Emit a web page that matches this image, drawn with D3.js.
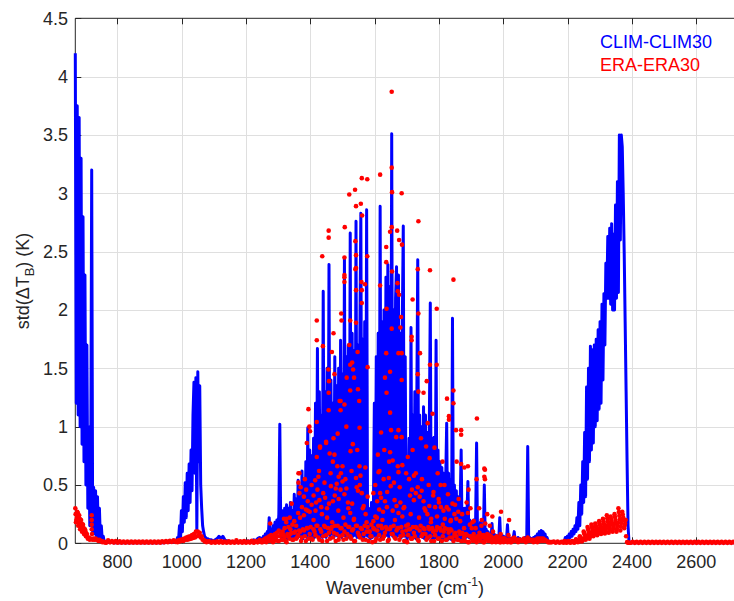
<!DOCTYPE html>
<html>
<head>
<meta charset="utf-8">
<script src="https://cdn.jsdelivr.net/npm/d3@7"></script>
<style>
  body { margin: 0; background: #fff; }
  svg { display: block; }
  text { font-family: "Liberation Sans", Arial, Helvetica, sans-serif; }
</style>
</head>
<body>
<svg id="chart" width="734" height="601"></svg>
<script>
// channel blocks: first wavenumber and spacing (cm-1) of each block
const segStart = [669, 771, 984, 1086, 1251, 2157, 2190, 2403];
const segStep  = [3, 6, 3, 6, 3, 6, 3, 6];
// ERA has two more interleaved blocks (water band floor, CO2 4.3um band)
const eraStart = segStart.concat([1272, 2227.5]);
const eraStep  = segStep.concat([6, 3]);

// CLIM-CLIM30 std(dTb), one array per block
const climLw = [4.2,1.2,3.75,1.1,3.65,1.0,3.3,0.85,2.8,0.7,2.3,0.5,1.7,0.3,1.0,0.15,0.6,3.2,0.1,0.48,
  0.08,0.45,0.06,0.4,0.05,0.3,0.03,0.15,0.02,0.06,0.01,0.02,0.005];
const climWin = [0.01,0.008,0.006,0.005,0.005,0.005,0.004,0.004,0.004,0.004,0.004,0.004,0.004,0.004,
  0.004,0.004,0.004,0.004,0.004,0.004,0.004,0.004,0.004,0.004,0.004,0.004,0.004,
  0.005,0.005,0.005,0.006,0.007,0.008,0.01,0.012,0.015];
const climO3 = [0.02,0.05,0.03,0.15,0.05,0.28,0.1,0.4,0.18,0.52,0.22,0.6,0.28,0.68,0.35,0.8,0.45,1.1,
  1.38,0.6,1.42,0.1,1.47,0.7,1.35,0.5,0.3,0.15,0.1,0.06,0.05,0.04,0.04];
const climMid = [0.03,0.03,0.02,0.03,0.04,0.06,0.04,0.06,0.03,0.02,0.02,0.015,0.015,0.01,
  0.01,0.01,0.01,0.015,0.01,0.015,0.02,0.015,0.02,0.03,0.02,0.04,0.05,0.04];
const climH2o = [
  0.03,0.06,0.02,0.08,0.04,0.1,0.05,0.22,0.06,0.12,
  0.05,0.15,0.06,0.18,0.08,0.2,0.1,0.25,1.02,0.12,
  0.04,0.28,0.03,0.3,0.05,0.33,0.04,0.3,0.06,0.35,
  0.05,0.28,0.04,0.42,0.06,0.38,0.05,0.54,0.06,0.45,
  0.05,0.62,0.04,0.55,0.06,0.7,0.05,0.99,0.07,0.8,
  0.05,0.75,0.06,0.9,0.05,1.2,0.07,1.67,0.05,1.3,
  0.06,1.1,0.05,2.16,0.07,1.3,0.05,1.5,0.08,2.39,
  0.06,1.4,0.08,1.2,0.05,1.6,0.07,1.35,0.06,1.5,
  0.07,1.74,0.05,1.45,0.08,2.44,0.06,1.6,0.07,1.7,
  0.05,2.66,0.08,1.8,0.06,1.65,0.07,2.76,0.05,1.7,
  0.08,1.8,2.83,0.06,1.75,0.05,1.9,0.07,2.86,0.06,
  0.3,0.05,0.04,0.35,0.05,0.25,1.2,0.06,1.6,0.05,
  1.8,0.07,2.89,0.05,1.9,0.08,2.0,0.06,2.28,0.07,
  2.39,0.05,2.2,0.08,3.51,0.06,2.0,0.07,2.1,2.37,
  0.06,2.3,0.07,1.8,0.05,1.9,2.72,0.06,1.6,0.1,
  0.03,0.3,0.9,0.05,1.85,0.06,1.1,0.05,1.3,0.04,
  1.2,2.43,0.05,1.1,0.06,1.0,0.05,1.17,0.04,1.1,
  0.05,0.95,0.04,1.0,2.06,0.05,0.9,0.04,0.91,0.05,
  1.74,0.04,0.8,0.05,0.7,0.04,0.65,0.03,0.6,0.04,
  0.55,1.03,0.03,0.6,0.04,0.55,0.03,1.93,0.04,0.5,
  0.03,0.45,0.04,0.4,0.03,0.35,0.8,0.03,0.3,0.02,
  0.3,0.05,0.25,0.53,0.05,0.2,0.04,0.18,0.05,0.2,
  0.04,0.2,0.86,0.03,0.15,0.04,0.18,0.03,0.12,0.04,
  0.5,0.03,0.12,0.04,0.1,0.03,0.08,0.04,0.17,0.03,
  0.08,0.03,0.07,0.02,0.06,0.03,0.22,0.02,0.07,0.03,
  0.06,0.02,0.05,0.03,0.16,0.02,0.05,0.02,0.04,0.02,
  0.05,0.1,0.02,0.04,0.02,0.05,0.02,0.04,0.02,0.03,
  0.04,0.02,0.05,0.02,0.04,0.83,0.03,0.05,0.02,0.04,
  0.03,0.05,0.02,0.06,0.04,0.08,0.03,0.1,0.05,0.11,
  0.06,0.1,0.04,0.08,0.03,0.05,0.02,0.02,0.01,0.01,
  0.01];
const climGap = [0.01,0.008,0.006,0.006,0.008,0.012];
const climSw = [0.02,0.05,0.03,0.06,0.04,0.08,0.05,0.1,0.06,0.12,
  0.08,0.15,0.1,0.22,0.12,0.35,0.15,0.5,0.25,0.7,
  0.35,0.95,0.4,1.34,0.55,1.5,0.7,1.69,0.8,1.66,
  0.86,1.7,1.0,1.75,1.05,1.83,1.15,1.9,1.2,2.05,
  1.4,2.14,1.7,2.4,2.1,2.63,2.1,2.7,2.05,2.74,
  2.0,2.65,2.0,2.9,2.1,3.1,2.15,3.5,2.6,3.5,
  3.4,3.0,2.5,1.9,1.3,0.7,0.15,0.01,0.005,0.005];
const climTail = [0.005,0.005,0.005,0.005,0.005,0.005,0.005,0.005,0.005,
  0.005,0.005,0.005,0.005,0.005,0.005,0.005,0.005,0.005,
  0.005,0.005,0.005,0.005,0.005,0.005,0.005,0.005,0.005,
  0.005,0.005,0.005,0.005,0.005,0.005,0.005,0.005,0.005,
  0.005,0.005,0.005,0.005,0.005,0.005,0.005,0.005,0.005,
  0.005,0.005,0.005,0.005,0.005,0.005,0.005,0.005,0.005];

// ERA-ERA30 std(dTb), same blocks plus two interleaved ones
const eraLw = [0.3,0.2,0.27,0.15,0.24,0.12,0.2,0.1,0.16,0.08,0.12,0.06,0.08,0.04,0.05,0.03,0.04,0.24,
  0.03,0.04,0.03,0.04,0.03,0.03,0.02,0.03,0.02,0.02,0.01,0.015,0.01,0.008,0.005];
const eraWin = [0.025,0.008,0.02,0.006,0.02,0.005,0.018,0.005,
  0.015,0.005,0.015,0.005,0.015,0.005,0.015,0.005,0.015,0.005,0.015,0.005,
  0.015,0.005,0.015,0.005,0.015,0.005,0.015,0.005,
  0.018,0.008,0.02,0.01,0.022,0.012,0.025,0.012];
const eraO3 = [0.02,0.01,0.025,0.015,0.03,0.02,0.035,0.02,0.04,0.03,0.05,0.03,0.055,0.035,0.06,0.04,
  0.07,0.045,0.08,0.05,0.1,0.06,0.1,0.065,0.09,0.05,0.06,0.03,0.03,0.015,0.02,0.01,0.015];
const eraMid = [0.018,0.005,0.015,0.005,0.018,0.006,0.02,0.005,0.015,0.005,0.018,0.005,0.015,0.005,
  0.025,0.006,0.018,0.005,0.02,0.005,0.015,0.006,0.022,0.005,0.02,0.008,0.03,0.01];
const eraH2o = [
  0.01,0.03,0.02,0.04,0.01,0.05,0.03,0.06,0.02,0.07,
  0.04,0.06,0.02,0.08,0.05,0.09,0.02,0.11,0.06,0.08,
  0.03,0.1,0.07,0.13,0.02,0.21,0.08,0.14,0.04,0.12,
  0.09,0.16,0.03,0.19,0.1,0.15,0.05,0.26,0.11,0.22,
  0.02,0.31,0.12,0.24,0.06,0.29,0.13,0.36,0.04,0.27,
  0.14,0.33,0.03,0.41,0.1,0.28,0.15,0.46,0.05,0.37,
  0.12,0.31,0.02,0.43,0.15,0.39,0.07,0.22,0.13,0.34,
  0.04,0.49,0.14,0.36,0.09,0.41,0.02,0.51,0.15,0.38,
  0.06,0.46,0.13,0.53,0.03,0.42,0.16,0.47,0.08,0.3,
  0.14,0.26,0.04,0.34,0.12,0.21,0.02,0.56,0.15,0.45,
  0.07,0.5,0.13,0.43,0.03,0.32,0.15,0.25,0.1,0.4,
  0.02,0.1,0.06,0.16,0.01,0.19,0.12,0.23,0.04,0.36,
  0.15,0.29,0.03,0.39,0.13,0.27,0.06,0.36,0.14,0.31,
  0.02,0.56,0.12,0.49,0.08,0.28,0.15,0.37,0.04,0.32,
  0.13,0.26,0.03,0.35,0.14,0.23,0.07,0.31,0.02,0.11,
  0.01,0.16,0.12,0.41,0.04,0.46,0.14,0.37,0.06,0.43,
  0.13,0.48,0.02,0.4,0.15,0.45,0.08,0.36,0.12,0.28,
  0.03,0.25,0.14,0.32,0.06,0.21,0.13,0.41,0.02,0.31,
  0.11,0.23,0.04,0.35,0.13,0.31,0.02,0.16,0.1,0.21,
  0.03,0.31,0.12,0.29,0.05,0.19,0.11,0.34,0.02,0.25,
  0.09,0.21,0.03,0.27,0.1,0.19,0.02,0.09,0.08,0.13,
  0.02,0.08,0.07,0.26,0.01,0.16,0.06,0.13,0.02,0.19,
  0.05,0.13,0.01,0.06,0.06,0.09,0.02,0.15,0.05,0.07,
  0.01,0.17,0.05,0.08,0.02,0.07,0.04,0.06,0.01,0.1,
  0.04,0.05,0.01,0.06,0.03,0.05,0.01,0.08,0.04,0.04,
  0.01,0.04,0.03,0.03,0.01,0.07,0.03,0.03,0.01,0.03,
  0.02,0.05,0.02,0.03,0.02,0.03,0.02,0.03,0.02,0.02,
  0.02,0.03,0.02,0.03,0.02,0.05,0.02,0.03,0.02,0.03,
  0.02,0.03,0.02,0.03,0.02,0.04,0.02,0.04,0.02,0.04,
  0.02,0.04,0.02,0.03,0.02,0.02,0.01,0.01,0.01,0.01,
  0.01];
const eraGap = [0.015,0.005,0.015,0.005,0.012,0.005];
const eraSw = [0.02,0.015,0.005,0.01,0.02,0.015,0.005,0.01,0.02,0.015,0.005,0.01,
  0.035,0.027,0.01,0.018,0.06,0.045,0.015,0.03,0.1,0.077,0.03,0.053,
  0.14,0.107,0.04,0.073,0.16,0.127,0.06,0.093,0.17,0.137,0.07,0.103,
  0.19,0.153,0.08,0.117,0.21,0.168,0.085,0.127,0.24,0.19,0.09,0.14,
  0.23,0.187,0.1,0.143,0.25,0.2,0.1,0.15,0.3,0.237,0.11,0.173,
  0.27,0.22,0.13,0.17,0.06,0.01,0.005,0.005,0.005,0.005];
const eraTail = [0.012,0.004,0.012,0.004,0.012,0.004,0.012,0.004,0.012,0.004,0.012,0.004,
  0.012,0.004,0.012,0.004,0.012,0.004,0.012,0.004,0.012,0.004,0.012,0.004,0.012,0.004,0.012,
  0.004,0.012,0.004,0.012,0.004,0.012,0.004,0.012,0.004,0.012,0.004,0.012,0.004,0.012,0.004,
  0.012,0.004,0.012,0.004,0.012,0.004,0.012,0.004,0.012,0.004,0.012,0.004];
const eraH2oFloor = [
  0.02,0.05,0.01,0.04,0.06,0.02,0.07,0.03,0.05,0.01,0.06,0.08,0.03,0.09,0.04,0.07,0.1,
  0.05,0.11,0.02,0.13,0.08,0.04,0.12,0.07,0.15,0.03,
  0.1,0.06,0.14,0.02,0.09,0.12,0.05,0.15,0.08,0.03,
  0.13,0.07,0.1,0.04,0.14,0.06,0.11,0.02,0.15,0.09,
  0.05,0.12,0.08,0.03,0.14,0.1,0.06,0.13,0.02,0.11,
  0.07,0.15,0.04,0.09,0.12,0.03,0.14,0.08,0.05,0.11,
  0.13,0.06,0.1,0.02,0.15,0.07,0.12,0.04,0.09,0.14,
  0.03,0.11,0.06,0.13,0.08,0.05,0.12,0.02,0.1,0.07,
  0.14,0.04,0.11,0.06,0.13,0.03,0.09,0.12,0.05,0.08,
  0.06,0.03,0.08,0.02,0.05,0.07,0.01,0.06,0.04,0.08,
  0.02,0.05,0.03,0.07,0.01,0.04,0.06,0.02,0.05,0.03,
  0.04,0.02,0.05,0.01,0.03,0.04,0.02,0.03,0.01,0.04,
  0.02,0.03,0.01,0.03,0.02,0.04,0.01,0.02,0.03,0.02,
  0.01,0.02,0.01];
const eraSwFill = [0.031,0.0225,0.014,0.0225, 0.0525,0.0375,0.0225,0.0375, 0.088,0.065,0.042,0.065,
  0.123,0.09,0.057,0.09, 0.143,0.11,0.077,0.11, 0.153,0.12,0.087,0.12, 0.172,0.135,0.098,0.135,
  0.189,0.148,0.106,0.148, 0.215,0.165,0.115,0.165, 0.208,0.165,0.122,0.165, 0.225,0.175,0.125,0.175,
  0.268,0.205,0.142,0.205, 0.247,0.2,0.153,0.2];

// ERA channels scattered above the cloud: [wavenumber, std]
const eraScatter = [
  [670,0.25],[671,0.18],[674,0.22],[677,0.26],[680,0.18],[683,0.21],[686,0.14],[689,0.17],
  [692,0.12],[695,0.13],[698,0.09],[701,0.1],[704,0.06],[720,0.2],[720,0.16],[720,0.12],[721,0.08],
  [1653,3.87],[1653,3.22],[1654,3.01],[1617,3.16],[1560,3.13],[1577,3.12],[1539,3.03],[1521,2.99],
  [1542,2.89],[1557,2.91],[1684,3.0],[1736,2.76],[1457,2.68],[1457,2.62],[1437,2.46],[1507,2.71],
  [1561,2.81],[1653,2.71],[1648,2.67],[1670,2.68],[1676,2.6],[1685,2.56],[1636,2.54],[1636,2.41],
  [1540,2.59],[1542,2.47],[1506,2.45],[1577,2.46],[1506,2.28],[1506,2.24],[1540,2.35],[1559,2.24],
  [1570,2.22],[1617,2.21],[1654,2.33],[1671,2.23],[1676,2.13],[1734,2.35],[1772,2.34],[1845,2.26],
  [1718,2.09],[1560,2.06],[1560,2.17],[1793,2.01],
  [1736,1.97],[1741,1.63],[1715,1.77],[1772,1.53],[1762,1.39],[1734,1.45],[1752,1.29],[1825,1.24],
  [1831,1.09],[1831,1.06],[1845,1.31],[1845,1.2],[1869,0.97],[1869,0.93],[1918,1.07],[1890,0.66],
  [1941,0.64],[1941,0.57],[1869,0.68],[1892,0.46],[1917,0.55],[1966,0.23],[1993,0.27],[2018,0.2],
  [1793,1.53],[1780,1.11],[1765,1.03],[1736,1.3],[1715,1.74],[1850,0.33],[1672,2.16],[1637,2.01],
  [1682,1.94],[1653,1.84],[1680,1.85],[1674,1.63],[1648,1.47],[1684,1.63],[1684,1.4],[1637,1.29],
  [1648,1.12],[1674,0.97],[1648,0.78],[1684,0.91],[1686,0.67],[1674,0.61],
  [1420,1.91],[1420,1.74],[1439,1.69],[1472,1.8],[1467,1.64],[1456,1.49],[1458,1.39],[1475,1.45],
  [1394,1.15],[1397,1.0],[1389,0.86],[1420,1.04],[1363,0.6],[1342,0.34],[1336,0.22],[1496,1.97],
  [1497,1.91],[1506,2.3],[1524,1.91],[1521,1.7],[1524,1.53],[1542,2.36],[1542,2.17],[1542,1.89],
  [1578,1.51],[1547,1.64],[1548,1.32],[1552,1.22],[1530,1.55],[1533,1.49],[1536,1.42],[1506,1.19],
  [1494,1.22],[1494,1.14],[1524,1.31],[1513,1.42],[1491,1.22],[1457,1.29],[1457,1.14],[1430,0.82],
  [1449,0.86],[1472,0.9],[1470,0.7],[1420,0.74],[1425,0.57],[1596,0.43],[1612,0.61],[1617,0.43],
  [1636,1.63],[1632,1.42],
  [1399,0.96],[1366,0.6],[1325,0.18],[1275,0.17],[1318,0.21],[1363,0.52],[1366,0.43],[1370,0.48],
  [1380,0.4],[1387,0.46],[1415,0.54],[1430,0.83],[1449,0.87],[1460,0.77],[1475,0.76],[1485,0.94],
  [1484,0.66],[1488,0.57],[1500,0.66],[1512,1.0],[1525,0.79],[1532,0.85],[1546,0.8],[1553,0.99],
  [1553,0.66],[1610,0.76],[1620,0.95],[1630,0.8],[1651,0.97],[1656,0.71],[1667,0.91],[1672,0.66],
  [1698,0.6],[1703,0.74],[1718,0.8],[1728,0.6],[1744,0.9],[1760,0.83],[1771,0.73],[1786,0.82],
  [1796,0.6],[1811,0.7],[1817,0.5],[1853,0.97],[1855,0.7],[1879,0.65],[1943,0.63],[1943,0.55],
  [1383,0.55],[1392,0.28],[1404,0.5],[1410,0.2],[1418,0.35],[1427,0.62],[1436,0.25],[1444,0.52],
  [1452,0.3],[1463,0.6],[1468,0.18],[1479,0.47],[1487,0.28],[1495,0.6],[1503,0.22],[1509,0.55],
  [1517,0.35],[1528,0.62],[1535,0.2],[1544,0.48],[1556,0.58],[1563,0.3],[1571,0.65],[1575,0.18],
  [1602,0.5],[1607,0.22],[1615,0.62],[1624,0.2],[1628,0.55],[1639,0.44],[1645,0.7],[1660,0.52],
  [1663,0.2],[1678,0.48],[1690,0.3],[1707,0.55],[1712,0.25],[1722,0.58],[1738,0.22],[1747,0.55],
  [1755,0.3],[1768,0.5],[1775,0.18],[1783,0.44],[1799,0.38],[1805,0.5],[1814,0.28],[1828,0.42],
  [1837,0.2],[1861,0.38],[1872,0.25],[1886,0.35],[1898,0.3],[1904,0.18],[1925,0.3],[1933,0.2],
  [1950,0.25],[1958,0.15]
];

const xTicks = [800, 1000, 1200, 1400, 1600, 1800, 2000, 2200, 2400, 2600];
const yTicks = [0, 0.5, 1, 1.5, 2, 2.5, 3, 3.5, 4, 4.5];
const seriesNames = ["CLIM-CLIM30", "ERA-ERA30"];
const seriesColors = ["#0000ff", "#ff0000"];

const svg = d3.select("#chart");
const x = d3.scaleLinear().domain([669, 2720]).range([75.3, 734.8]);
const y = d3.scaleLinear().domain([0, 4.5]).range([543.3, 18.3]);
const axisColor = "#262626";

function toPoints(segs, starts, steps) {
  const pts = [];
  segs.forEach((vals, s) => {
    vals.forEach((v, i) => pts.push([starts[s] + i * steps[s], v]));
  });
  return pts;
}

const climPts = toPoints([climLw, climWin, climO3, climMid, climH2o, climGap, climSw, climTail],
  segStart, segStep);
const eraPts = toPoints([eraLw, eraWin, eraO3, eraMid, eraH2o, eraGap, eraSw, eraTail, eraH2oFloor, eraSwFill],
  eraStart, eraStep).concat(eraScatter);

// grid
const grid = svg.append("g").attr("stroke", "#dfdfdf").attr("stroke-width", 1);
grid.selectAll(".gx").data(xTicks).join("line")
  .attr("x1", d => Math.round(x(d)) + 0.5).attr("x2", d => Math.round(x(d)) + 0.5)
  .attr("y1", y(4.5)).attr("y2", y(0));
grid.selectAll(".gy").data(yTicks.slice(1, -1)).join("line")
  .attr("y1", d => Math.round(y(d)) + 0.5).attr("y2", d => Math.round(y(d)) + 0.5)
  .attr("x1", x(669)).attr("x2", x(2720));

// axes box and inward ticks
const ax = svg.append("g").attr("stroke", axisColor).attr("stroke-width", 1).attr("fill", "none");
ax.append("path").attr("d", `M${x(2720)},${y(4.5)}H${x(669)}V${y(0)}H${x(2720)}V${y(4.5)}`);
xTicks.forEach(t => {
  const px = Math.round(x(t)) + 0.5;
  ax.append("line").attr("x1", px).attr("x2", px).attr("y1", y(0)).attr("y2", y(0) - 6);
  ax.append("line").attr("x1", px).attr("x2", px).attr("y1", y(4.5)).attr("y2", y(4.5) + 6);
});
yTicks.forEach(t => {
  const py = Math.round(y(t)) + 0.5;
  ax.append("line").attr("y1", py).attr("y2", py).attr("x1", x(669)).attr("x2", x(669) + 6);
});

// CLIM line
const line = d3.line().x(d => x(d[0])).y(d => y(d[1]));
svg.append("path").datum(climPts)
  .attr("d", line)
  .attr("fill", "none")
  .attr("stroke", seriesColors[0])
  .attr("stroke-width", 3)
  .attr("stroke-linejoin", "round");

// ERA dots
svg.append("g").attr("fill", seriesColors[1])
  .selectAll("circle").data(eraPts).join("circle")
  .attr("cx", d => x(d[0])).attr("cy", d => y(d[1])).attr("r", 2.3);

// tick labels
svg.append("g").attr("font-size", 18).attr("fill", axisColor).attr("text-anchor", "middle")
  .selectAll("text").data(xTicks).join("text")
  .attr("x", d => x(d)).attr("y", 568.3).text(d => d);
svg.append("g").attr("font-size", 18).attr("fill", axisColor).attr("text-anchor", "end")
  .selectAll("text").data(yTicks).join("text")
  .attr("x", 68).attr("y", d => y(d) + 6.4).text(d => d);

// axis titles
const xl = svg.append("text").attr("x", 405).attr("y", 594).attr("text-anchor", "middle")
  .attr("font-size", 18).attr("fill", axisColor);
xl.append("tspan").text("Wavenumber (cm");
xl.append("tspan").attr("font-size", 12).attr("dy", -8).text("-1");
xl.append("tspan").attr("dy", 8).text(")");

const yl = svg.append("text").attr("transform", "translate(28.5,281) rotate(-90)")
  .attr("text-anchor", "middle").attr("font-size", 18).attr("fill", axisColor);
yl.append("tspan").text("std(\u0394T");
yl.append("tspan").attr("font-size", 13).attr("dy", 5).text("B");
yl.append("tspan").attr("dy", -5).text(") (K)");

// legend text
svg.append("g").attr("font-size", 18)
  .selectAll("text").data(seriesNames).join("text")
  .attr("x", 600).attr("y", (d, i) => 48.3 + i * 22.4)
  .attr("fill", (d, i) => seriesColors[i]).text(d => d);
</script>
</body>
</html>
